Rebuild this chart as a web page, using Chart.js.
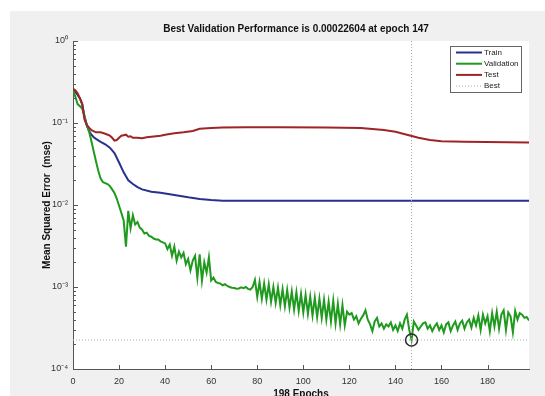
<!DOCTYPE html>
<html>
<head>
<meta charset="utf-8">
<script src="https://cdn.jsdelivr.net/npm/chart.js@4.4.1/dist/chart.umd.min.js"></script>
<style>
  html, body { margin: 0; padding: 0; background: #fff; }
</style>
</head>
<body>
<canvas id="perf" width="545" height="396"></canvas>
<script>
// ---- data ----
const xTicks = [0, 20, 40, 60, 80, 100, 120, 140, 160, 180];
const yTicks = [1e-4, 1e-3, 1e-2, 1e-1, 1];
const yTickLabels = ['10\u207B\u2074', '10\u207B\u00B3', '10\u207B\u00B2', '10\u207B\u00B9', '10\u2070'];

const bestEpoch = 147;
const bestPerf = 0.00022604;
const nEpochs = 198;

// train (epoch, mse)
const trainEpochs = [0, 1, 2, 3, 4, 5, 6, 7, 8, 9, 10, 12, 14, 16, 18, 20, 22, 24, 26, 28, 30, 34, 38, 42, 46, 50, 55, 60, 65, 70, 198];
const trainMse = [0.26, 0.24, 0.22, 0.2, 0.17, 0.12, 0.093, 0.08, 0.072, 0.067, 0.064, 0.059, 0.055, 0.05, 0.043, 0.033, 0.025, 0.02, 0.018, 0.0165, 0.0155, 0.0145, 0.0141, 0.0135, 0.013, 0.0124, 0.0118, 0.0115, 0.0113, 0.0113, 0.0113];

// test (epoch, mse)
const testEpochs = [0, 1, 2, 3, 4, 5, 6, 7, 8, 10, 12, 14, 16, 17, 18, 19, 20, 21, 22, 23, 24, 25, 26, 28, 30, 32, 34, 36, 38, 40, 44, 48, 52, 55, 60, 65, 75, 90, 110, 125, 135, 140, 145, 150, 155, 160, 170, 198];
const testMse = [0.26, 0.25, 0.23, 0.2, 0.17, 0.11, 0.095, 0.088, 0.082, 0.077, 0.077, 0.074, 0.07, 0.066, 0.061, 0.062, 0.066, 0.07, 0.071, 0.072, 0.068, 0.069, 0.066, 0.066, 0.065, 0.067, 0.068, 0.069, 0.07, 0.072, 0.075, 0.077, 0.08, 0.085, 0.087, 0.088, 0.089, 0.089, 0.088, 0.087, 0.082, 0.078, 0.072, 0.066, 0.062, 0.060, 0.059, 0.058];

// validation, one value per epoch 0..198
const valMse = [
  0.25, 0.21, 0.17, 0.16, 0.15, 0.12, 0.095, 0.078, 0.06, 0.045,            // 0-9
  0.034, 0.026, 0.021, 0.019, 0.0185, 0.018, 0.017, 0.0155, 0.014, 0.012,   // 10-19
  0.0098, 0.008, 0.0065, 0.0031, 0.0085, 0.0052, 0.0075, 0.0058, 0.0062, 0.0053, // 20-29
  0.005, 0.0045, 0.0046, 0.0042, 0.0041, 0.0039, 0.0038, 0.0038, 0.0036, 0.0035, // 30-39
  0.0034, 0.0029, 0.0033, 0.0024, 0.0031, 0.0021, 0.0027, 0.0023, 0.0026, 0.0019, // 40-49
  0.0022, 0.0016, 0.0021, 0.0024, 0.0013, 0.0025, 0.0012, 0.002, 0.0015, 0.0023,  // 50-59
  0.0012, 0.0013, 0.00115, 0.00112, 0.0011, 0.00105, 0.00108, 0.00103, 0.001, 0.00098, // 60-69
  0.00097, 0.00095, 0.00096, 0.00099, 0.00097, 0.001, 0.00095, 0.00093, 0.001, 0.00122, // 70-79
  0.00076, 0.00115, 0.00072, 0.0011, 0.0007, 0.00108, 0.00066, 0.001, 0.00064, 0.00098, // 80-89
  0.0006, 0.00094, 0.00058, 0.00092, 0.00056, 0.00088, 0.00053, 0.00086, 0.00051, 0.00082, // 90-99
  0.00049, 0.0008, 0.00047, 0.00076, 0.00045, 0.00074, 0.00043, 0.00072, 0.00042, 0.0007, // 100-109
  0.0004, 0.00066, 0.00038, 0.00068, 0.00036, 0.00062, 0.00035, 0.0006, 0.00034, 0.0005, // 110-119
  0.00046, 0.00048, 0.0004, 0.00044, 0.00036, 0.00041, 0.00045, 0.00052, 0.0004, 0.00035, // 120-129
  0.00029, 0.00038, 0.00042, 0.00033, 0.00036, 0.00031, 0.00035, 0.00033, 0.00037, 0.0003, // 130-139
  0.00034, 0.00029, 0.00036, 0.00031, 0.0004, 0.00046, 0.0003, 0.00022604, 0.00038, 0.00034, // 140-149
  0.0003, 0.00033, 0.00036, 0.00037, 0.00031, 0.00034, 0.00029, 0.00033, 0.00036, 0.0003, // 150-159
  0.00034, 0.00028, 0.00035, 0.00037, 0.00029, 0.00034, 0.00038, 0.0003, 0.00036, 0.00039, // 160-169
  0.00031, 0.00037, 0.0004, 0.00032, 0.00042, 0.00034, 0.00045, 0.0003, 0.00046, 0.00036, // 170-179
  0.00044, 0.00029, 0.00048, 0.00033, 0.0005, 0.00031, 0.00046, 0.00052, 0.0003, 0.00049, // 180-189
  0.00044, 0.00028, 0.00051, 0.0004, 0.00048, 0.00046, 0.00042, 0.00043, 0.00039           // 190-198
];

const FONT = "'Liberation Sans', Arial, sans-serif";

// ---- fondo gris, área blanca, ticks hacia dentro, leyenda y títulos ----
const matlabLook = {
  id: 'matlabLook',
  beforeDraw(chart) {
    const { ctx, chartArea: a } = chart;
    ctx.save();
    ctx.fillStyle = '#ffffff';
    ctx.fillRect(0, 0, chart.width, chart.height);
    ctx.fillStyle = '#f0f0f0';
    ctx.fillRect(10, 11, chart.width - 10, chart.height - 11);
    ctx.fillStyle = '#ffffff';
    ctx.fillRect(a.left, a.top, a.right - a.left, a.bottom - a.top);
    ctx.restore();
  },
  afterDraw(chart) {
    const { ctx, chartArea: a, scales: { x, y } } = chart;
    ctx.save();
    ctx.strokeStyle = '#555';
    ctx.lineWidth = 1;
    ctx.beginPath();
    xTicks.forEach(v => {
      const px = Math.round(x.getPixelForValue(v)) + 0.5;
      ctx.moveTo(px, a.bottom);
      ctx.lineTo(px, a.bottom - 4);
    });
    yTicks.forEach((v, i) => {
      const py = Math.round(y.getPixelForValue(v)) + 0.5;
      ctx.moveTo(a.left, py);
      ctx.lineTo(a.left + 5, py);
      if (i < yTicks.length - 1) {
        for (let m = 2; m <= 9; m++) {
          const pm = Math.round(y.getPixelForValue(v * m)) + 0.5;
          ctx.moveTo(a.left, pm);
          ctx.lineTo(a.left + 3, pm);
        }
      }
    });
    ctx.stroke();

    // títulos
    ctx.fillStyle = '#111';
    ctx.textAlign = 'center';
    ctx.textBaseline = 'middle';
    ctx.font = 'bold 10px ' + FONT;
    ctx.fillText('Best Validation Performance is 0.00022604 at epoch 147', 296, 29);
    ctx.font = 'bold 10px ' + FONT;
    ctx.fillText('198 Epochs', (a.left + a.right) / 2, 394);
    ctx.save();
    ctx.translate(47, (a.top + a.bottom) / 2);
    ctx.rotate(-Math.PI / 2);
    ctx.fillText('Mean Squared Error  (mse)', 0, 0);
    ctx.restore();

    // leyenda
    const lx = 450, ly = 46, lw = 71, lh = 46;
    ctx.fillStyle = '#fff';
    ctx.fillRect(lx, ly, lw, lh);
    ctx.strokeStyle = '#666';
    ctx.strokeRect(lx + 0.5, ly + 0.5, lw, lh);
    ctx.font = '8px ' + FONT;
    ctx.textAlign = 'left';
    chart.data.datasets.slice(0, 4).forEach((ds, i) => {
      const ry = ly + 6.5 + i * 11.2;
      ctx.strokeStyle = ds.borderColor;
      ctx.lineWidth = ds.borderWidth;
      ctx.setLineDash(ds.borderDash || []);
      ctx.beginPath();
      ctx.moveTo(lx + 6, ry);
      ctx.lineTo(lx + 32, ry);
      ctx.stroke();
      ctx.setLineDash([]);
      ctx.fillStyle = '#222';
      ctx.fillText(ds.label, lx + 34, ry);
    });
    ctx.restore();
  }
};

const toPoints = (xs, ys) => xs.map((e, i) => ({ x: e, y: ys[i] }));

new Chart(document.getElementById('perf'), {
  type: 'line',
  data: {
    datasets: [
      { label: 'Train', data: toPoints(trainEpochs, trainMse), borderColor: '#28318f', borderWidth: 2, order: 3 },
      { label: 'Validation', data: valMse.map((v, i) => ({ x: i, y: v })), borderColor: '#1f9a1f', borderWidth: 2, order: 2 },
      { label: 'Test', data: toPoints(testEpochs, testMse), borderColor: '#9e2428', borderWidth: 2, order: 1 },
      { label: 'Best', data: [{ x: 0, y: bestPerf }, { x: nEpochs, y: bestPerf }], borderColor: '#a3ada3', borderWidth: 1, borderDash: [1, 2], order: 0 },
      { label: 'BestV', data: [{ x: bestEpoch, y: 1e-4 }, { x: bestEpoch, y: 1 }], borderColor: '#a3ada3', borderWidth: 1, borderDash: [1, 2], order: 0 },
      { label: 'BestPt', data: [{ x: bestEpoch, y: bestPerf }], showLine: false, pointRadius: 6, pointBorderWidth: 1.5,
        pointBorderColor: '#2a2a2a', pointBackgroundColor: 'rgba(0,0,0,0)', borderColor: '#2a2a2a', order: 0 }
    ]
  },
  options: {
    responsive: false,
    animation: false,
    devicePixelRatio: 1,
    layout: { padding: { left: 10, top: 41, right: 16, bottom: 0 } },
    elements: { point: { radius: 0 }, line: { tension: 0 } },
    plugins: { legend: { display: false }, tooltip: { enabled: false } },
    scales: {
      x: {
        type: 'linear', min: 0, max: nEpochs,
        grid: { display: false, drawTicks: false },
        border: { display: true, color: '#555', width: 1 },
        ticks: { font: { family: FONT, size: 9 }, color: '#333', padding: 7, maxRotation: 0, autoSkip: false },
        afterBuildTicks: s => { s.ticks = xTicks.map(v => ({ value: v })); },
        afterFit: s => { s.height = 27; }
      },
      y: {
        type: 'logarithmic', min: 1e-4, max: 1,
        grid: { display: false, drawTicks: false },
        border: { display: true, color: '#555', width: 1 },
        ticks: {
          font: { family: FONT, size: 9 }, color: '#333', padding: 5, autoSkip: false,
          callback: v => yTickLabels[yTicks.indexOf(v)]
        },
        afterBuildTicks: s => { s.ticks = yTicks.map(v => ({ value: v })); },
        afterFit: s => { s.width = 63; }
      }
    }
  },
  plugins: [matlabLook]
});
</script>
</body>
</html>
